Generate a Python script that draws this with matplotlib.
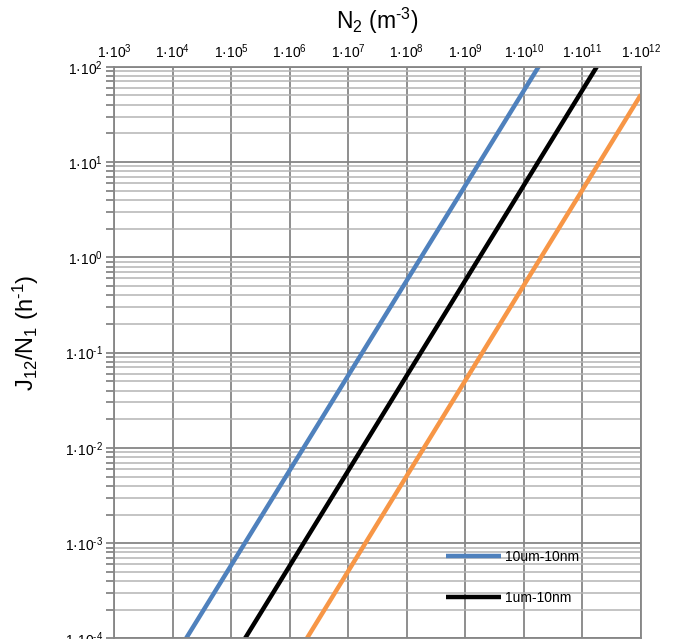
import math
import matplotlib.pyplot as plt
from matplotlib.ticker import LogLocator, FuncFormatter, NullFormatter

plt.rcParams['font.family'] = ['Liberation Sans', 'DejaVu Sans']
plt.rcParams['mathtext.fontset'] = 'custom'
plt.rcParams['mathtext.rm'] = 'Liberation Sans'
plt.rcParams['mathtext.it'] = 'Liberation Sans:italic'

# end points (straight lines on log-log axes)
n2_blue = [1.68e4, 1.78e10]
j_blue = [1e-4, 1e2]
n2_black = [1.71e5, 1.76e11]
j_black = [1e-4, 1e2]
n2_orange = [1.95e6, 1e12]
j_orange = [1e-4, 51]

fig = plt.figure(figsize=(6.74, 6.39), dpi=100)
ax = fig.add_axes([0.1696, 0.0008, 0.7814, 0.8948])

ax.plot(n2_blue, j_blue, color='#4F81BD', lw=3.2, label='10um-10nm', solid_capstyle='butt')
ax.plot(n2_black, j_black, color='black', lw=3.2, label='1um-10nm', solid_capstyle='butt')
ax.plot(n2_orange, j_orange, color='#F79646', lw=3.2, solid_capstyle='butt')

ax.set_xscale('log')
ax.set_yscale('log')
ax.set_xlim(1e3, 1e12)
ax.set_ylim(1e-4, 1e2)

def fmt(v, pos):
    e = int(round(math.log10(v)))
    return r'1·10$^{\text{%d}}$' % e

ax.xaxis.set_major_locator(LogLocator(base=10, numticks=20))
ax.yaxis.set_major_locator(LogLocator(base=10, numticks=20))
ax.yaxis.set_minor_locator(LogLocator(base=10, subs=range(2, 10), numticks=20))
ax.xaxis.set_minor_locator(LogLocator(base=10, subs=[], numticks=20))
ax.xaxis.set_major_formatter(FuncFormatter(fmt))
ax.yaxis.set_major_formatter(FuncFormatter(fmt))
ax.yaxis.set_minor_formatter(NullFormatter())

ax.xaxis.tick_top()
ax.xaxis.set_label_position('top')
ax.tick_params(axis='x', which='both', length=0, pad=4, labelsize=10)
ax.tick_params(axis='y', which='major', length=6, width=1.3, color='#868686', labelsize=10, pad=2)
ax.tick_params(axis='y', which='minor', length=6, width=1.3, color='#868686')

ax.grid(True, which='major', color='#868686', lw=1.3)
ax.grid(True, which='minor', axis='y', color='#b4b4b4', lw=1.1)
ax.set_axisbelow(True)
for s in ax.spines.values():
    s.set_color('#868686')
    s.set_linewidth(1.3)

ax.set_xlabel(r'N$_2$ (m$^{\text{-3}}$)', fontsize=16.5, labelpad=10)
ax.set_ylabel(r'J$_{12}$/N$_1$ (h$^{\text{-1}}$)', fontsize=17, labelpad=14)
ax.yaxis.set_label_coords(-0.14, 0.534)

ax.legend(loc='upper left', bbox_to_anchor=(0.62, 0.165), frameon=False,
          handlelength=3.9, labelspacing=1.95, fontsize=10, handletextpad=0.3,
          borderaxespad=0)

fig.savefig('out.png', dpi=100)
